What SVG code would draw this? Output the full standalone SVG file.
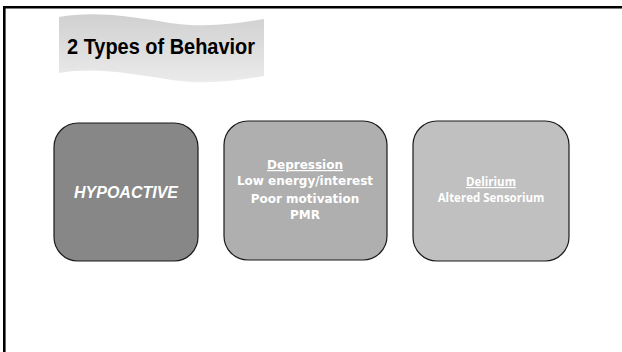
<svg xmlns="http://www.w3.org/2000/svg" width="622" height="352" viewBox="0 0 622 352">
<defs>
<linearGradient id="bannerGrad" x1="0" y1="0" x2="0" y2="1">
<stop offset="0" stop-color="#d0d0d0"/>
<stop offset="1" stop-color="#ebebeb"/>
</linearGradient>
</defs>
<style>
.box{stroke:#1a1a1a;stroke-width:1.2}
.t{fill:#ffffff;text-anchor:middle;font-weight:bold}
.s{font-family:"DejaVu Sans",sans-serif;font-size:12px}
.o{font-family:"Open Sans",sans-serif;font-size:11.5px}
.u{text-decoration:underline}
</style>
<rect width="622" height="352" fill="#ffffff"/>
<g id="frame" fill="none" stroke="#000000" stroke-width="2.6">
<path d="M4.3,352 V7.3 H622"/>
</g>
<g id="title">
<path d="M59,17 C95,10 140,18 170,23 C205,28 235,24 264,19 L264,76 C235,81 205,85 172,80 C140,75 95,66 59,73 Z" fill="url(#bannerGrad)"/>
<text x="161" y="53.5" font-family="Liberation Sans, Arial, sans-serif" font-size="21.5" font-weight="bold" fill="#000000" text-anchor="middle" textLength="188" lengthAdjust="spacingAndGlyphs">2 Types of Behavior</text>
</g>
<g id="hypoactive">
<rect class="box" x="54" y="123" width="144" height="138" rx="24" fill="#878787"/>
<text class="t" x="126" y="198" font-family="Liberation Sans, Arial, sans-serif" font-size="16" font-style="italic">HYPOACTIVE</text>
</g>
<g id="depression">
<rect class="box" x="224" y="121" width="163" height="139" rx="24" fill="#afafaf"/>
<text class="t s" x="305" y="169"><tspan class="u">Depression </tspan></text>
<text class="t s" x="305" y="185">Low energy/interest</text>
<text class="t s" x="305" y="203">Poor motivation</text>
<text class="t s" x="305" y="219">PMR</text>
</g>
<g id="delirium">
<rect class="box" x="413" y="121" width="156" height="140" rx="24" fill="#c0c0c0"/>
<text class="t o" x="491" y="186"><tspan class="u">Delirium </tspan></text>
<text class="t o" x="491" y="202">Altered Sensorium</text>
</g>
<g id="connectors"/>
</svg>
